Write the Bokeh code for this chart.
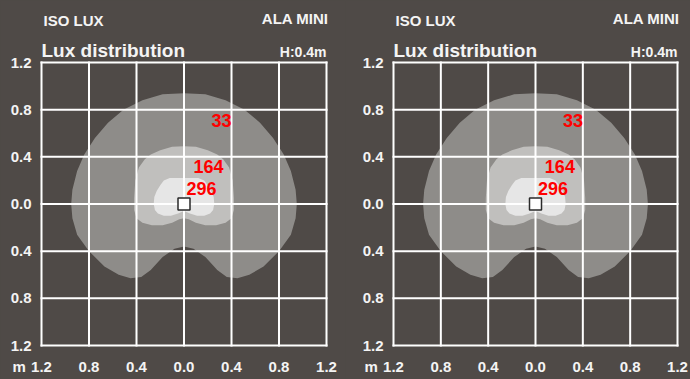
from bokeh.plotting import figure
from bokeh.models import ColumnDataSource, Range1d, Label
from bokeh.layouts import row
from bokeh.embed import file_html
from bokeh.resources import INLINE

# ---- data ----
grid_ticks = [-1.2, -0.8, -0.4, 0.0, 0.4, 0.8, 1.2]
y_tick_values = [1.2, 0.8, 0.4, 0.0, -0.4, -0.8, -1.2]
y_tick_labels = ["1.2", "0.8", "0.4", "0.0", "0.4", "0.8", "1.2"]
x_tick_values = [-1.2, -0.8, -0.4, 0.0, 0.4, 0.8, 1.2]
x_tick_labels = ["1.2", "0.8", "0.4", "0.0", "0.4", "0.8", "1.2"]

contour_levels = ["33", "164", "296"]
outer_x = [0.00, 0.18, 0.35, 0.51, 0.64, 0.75, 0.84, 0.90, 0.94, 0.95, 0.94, 0.90, 0.80, 0.67, 0.55, 0.45, 0.36, 0.28, 0.18, 0.08,
           0.00, -0.08, -0.18, -0.28, -0.36, -0.45, -0.55, -0.67, -0.80, -0.90, -0.94, -0.95, -0.94, -0.90, -0.84, -0.75, -0.64, -0.51, -0.35, -0.18]
outer_y = [0.94, 0.93, 0.88, 0.80, 0.69, 0.56, 0.42, 0.28, 0.12, 0.00, -0.12, -0.26, -0.40, -0.53, -0.60, -0.63, -0.62, -0.56, -0.45, -0.38,
           -0.36, -0.38, -0.45, -0.56, -0.62, -0.63, -0.60, -0.53, -0.40, -0.26, -0.12, 0.00, 0.12, 0.28, 0.42, 0.56, 0.69, 0.80, 0.88, 0.93]
mid_x = [0.00, 0.10, 0.20, 0.28, 0.33, 0.38, 0.41, 0.42, 0.42, 0.40, 0.35, 0.27, 0.18, 0.10, 0.04,
         0.00, -0.04, -0.10, -0.18, -0.27, -0.35, -0.40, -0.42, -0.42, -0.41, -0.38, -0.33, -0.28, -0.20, -0.10]
mid_y = [0.49, 0.485, 0.455, 0.42, 0.38, 0.31, 0.20, 0.05, -0.05, -0.12, -0.16, -0.18, -0.18, -0.16, -0.13,
         -0.12, -0.13, -0.16, -0.18, -0.18, -0.16, -0.12, -0.05, 0.05, 0.20, 0.31, 0.38, 0.42, 0.455, 0.485]
inner_x = [0.00, 0.12, 0.17, 0.20, 0.23, 0.25, 0.255, 0.245, 0.22, 0.17, 0.11, 0.05,
           0.00, -0.05, -0.11, -0.17, -0.22, -0.245, -0.255, -0.25, -0.23, -0.20, -0.17, -0.12]
inner_y = [0.22, 0.22, 0.20, 0.16, 0.11, 0.06, 0.00, -0.05, -0.08, -0.10, -0.10, -0.08,
           -0.06, -0.08, -0.10, -0.10, -0.08, -0.05, 0.00, 0.06, 0.11, 0.16, 0.20, 0.22]
contour_colors = ["#8e8c89", "#c0bfbd", "#e6e6e6"]

lux_label_text = ["33", "164", "296"]
lux_label_x = [0.316, 0.206, 0.147]
lux_label_y = [0.71, 0.32, 0.13]

lamp_x = [0.0]
lamp_y = [0.0]

BG = "#4f4a47"
TXT = "#f4f4f4"
FONT = "Liberation Sans"
W, H = 345, 379


def make_panel(grid_left_px, grid_right_px, grid_top_px=62, grid_bottom_px=345):
    # map the 2.4 m grid onto the chosen pixel box; the frame fills the whole canvas
    sx = (grid_right_px - grid_left_px) / 2.4
    sy = (grid_bottom_px - grid_top_px) / 2.4
    xr = Range1d(-1.2 - grid_left_px / sx, 1.2 + (W - grid_right_px) / sx)
    yr = Range1d(-1.2 - (H - grid_bottom_px) / sy, 1.2 + grid_top_px / sy)
    p = figure(width=W, height=H, output_backend="svg", toolbar_location=None,
               x_range=xr, y_range=yr, x_axis_location=None, y_axis_location=None,
               min_border=0)
    p.grid.visible = False
    p.background_fill_color = BG
    p.border_fill_color = BG
    p.outline_line_color = None

    src = ColumnDataSource(dict(xs=[outer_x, mid_x, inner_x], ys=[outer_y, mid_y, inner_y],
                                color=contour_colors, level=contour_levels))
    p.patches("xs", "ys", source=src, fill_color="color", line_color=None)

    n = len(grid_ticks)
    p.segment(x0=grid_ticks, y0=[-1.2] * n, x1=grid_ticks, y1=[1.2] * n,
              line_color="white", line_width=2, line_cap="square")
    p.segment(x0=[-1.2] * n, y0=grid_ticks, x1=[1.2] * n, y1=grid_ticks,
              line_color="white", line_width=2, line_cap="square")

    sq = p.scatter(lamp_x, lamp_y, marker="square", size=12, fill_color="white",
                   line_color="#2a2a2a", line_width=1.5)
    sq.level = "overlay"

    for t, x, y in zip(lux_label_text, lux_label_x, lux_label_y):
        p.add_layout(Label(x=x, y=y, text=t, text_color="#ff0000", text_font=FONT,
                           text_font_style="bold", text_font_size="18px",
                           text_align="center", text_baseline="middle"))

    for v, t in zip(y_tick_values, y_tick_labels):
        p.add_layout(Label(x=-1.2, y=v, x_offset=-10, text=t, text_color=TXT, text_font=FONT,
                           text_font_style="bold", text_font_size="15px",
                           text_align="right", text_baseline="middle"))
    for v, t in zip(x_tick_values, x_tick_labels):
        p.add_layout(Label(x=v, y=-1.2, y_offset=-21, text=t, text_color=TXT, text_font=FONT,
                           text_font_style="bold", text_font_size="15px",
                           text_align="center", text_baseline="middle"))
    p.add_layout(Label(x=-1.2, y=-1.2, x_offset=-29, y_offset=-21, text="m", text_color=TXT,
                       text_font=FONT, text_font_style="bold", text_font_size="15px",
                       text_align="left", text_baseline="middle"))

    p.add_layout(Label(x=-1.2, y=1.2, x_offset=2, y_offset=42, text="ISO LUX", text_color=TXT,
                       text_font=FONT, text_font_style="bold", text_font_size="15px",
                       text_align="left", text_baseline="alphabetic"))
    p.add_layout(Label(x=1.2, y=1.2, x_offset=2, y_offset=44, text="ALA MINI", text_color=TXT,
                       text_font=FONT, text_font_style="bold", text_font_size="15px",
                       text_align="right", text_baseline="alphabetic"))
    p.add_layout(Label(x=-1.2, y=1.2, x_offset=0, y_offset=12, text="Lux distribution", text_color=TXT,
                       text_font=FONT, text_font_style="bold", text_font_size="19px",
                       text_align="left", text_baseline="alphabetic"))
    p.add_layout(Label(x=1.2, y=1.2, x_offset=0, y_offset=11, text="H:0.4m", text_color=TXT,
                       text_font=FONT, text_font_style="bold", text_font_size="14px",
                       text_align="right", text_baseline="alphabetic"))
    return p


p1 = make_panel(41, 326)
p2 = make_panel(48, 332)
p = row(p1, p2, spacing=0)

open("out.html", "w").write(file_html(p, INLINE).replace("<body>", '<body style="background:#4f4a47">'))
